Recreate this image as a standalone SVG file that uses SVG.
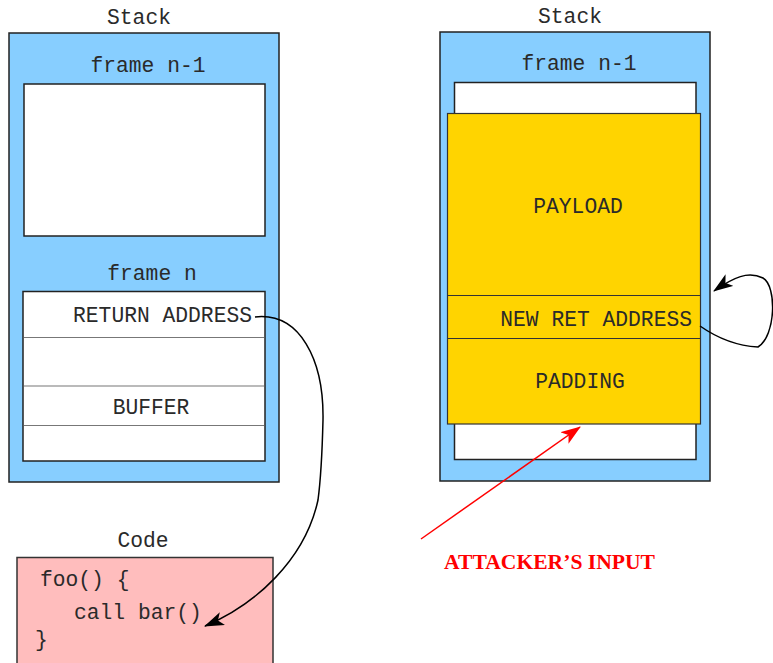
<svg xmlns="http://www.w3.org/2000/svg" width="773" height="663" viewBox="0 0 773 663">
  <style>
    .mono { font-family: "Liberation Mono", "Courier New", monospace; font-size: 21.3px; fill: #2a2a2a; }
    .stack { fill: #87CEFF; stroke: #222; stroke-width: 1.5; }
    .frame { fill: #ffffff; stroke: #222; stroke-width: 1.5; }
    .sep { stroke: #777; stroke-width: 1.2; }
    .sep-dark { stroke: #333; stroke-width: 1; }
    .payload { fill: #FFD400; stroke: #333; stroke-width: 1.2; }
    .code { fill: #FFBDBD; stroke: #333; stroke-width: 1.5; }
    .link { fill: none; stroke: #000; stroke-width: 1.5; }
    .attack { fill: none; stroke: #FF0000; stroke-width: 1.5; }
    .label { font-family: "Liberation Serif", "Times New Roman", serif; font-weight: bold; font-size: 21.5px; fill: #FF0000; }
  </style>
  <defs>
    <marker id="head" viewBox="0 0 20 14" refX="19" refY="7" markerWidth="20" markerHeight="14" markerUnits="userSpaceOnUse" orient="auto">
      <path d="M0,0 L20,7 L0,14 L5,7 Z" fill="#000"/>
    </marker>
    <marker id="head-red" viewBox="0 0 20 14" refX="19" refY="7" markerWidth="20" markerHeight="14" markerUnits="userSpaceOnUse" orient="auto">
      <path d="M0,0 L20,7 L0,14 L5,7 Z" fill="#FF0000"/>
    </marker>
  </defs>

  <rect width="773" height="663" fill="#ffffff"/>

  <!-- original stack -->
  <g id="stack-left">
    <text class="mono" x="139" y="24" text-anchor="middle">Stack</text>
    <rect class="stack" x="9" y="33" width="270" height="449"/>
    <text class="mono" x="148" y="72" text-anchor="middle">frame n-1</text>
    <rect class="frame" x="24" y="84" width="241" height="152"/>
    <text class="mono" x="152" y="280" text-anchor="middle">frame n</text>
    <rect class="frame" x="23" y="291.5" width="242" height="169.5"/>
    <line class="sep" x1="24" y1="337.5" x2="264" y2="337.5"/>
    <line class="sep" x1="24" y1="386" x2="264" y2="386"/>
    <line class="sep" x1="24" y1="425.5" x2="264" y2="425.5"/>
    <text class="mono" x="252" y="322" text-anchor="end">RETURN ADDRESS</text>
    <text class="mono" x="151" y="414" text-anchor="middle">BUFFER</text>
  </g>

  <!-- code block -->
  <g id="code">
    <text class="mono" x="143" y="547" text-anchor="middle">Code</text>
    <rect class="code" x="17" y="557.5" width="256" height="110"/>
    <text class="mono" x="40" y="586">foo() {</text>
    <text class="mono" x="74" y="619">call bar()</text>
    <text class="mono" x="35" y="646">}</text>
  </g>

  <!-- overwritten stack -->
  <g id="stack-right">
    <text class="mono" x="570" y="23" text-anchor="middle">Stack</text>
    <rect class="stack" x="440" y="32" width="270" height="449"/>
    <text class="mono" x="579" y="70" text-anchor="middle">frame n-1</text>
    <rect class="frame" x="454.5" y="82.5" width="241.5" height="377"/>
  </g>

  <g id="payload">
    <rect class="payload" x="447.5" y="113.5" width="253" height="310.5"/>
    <line class="sep-dark" x1="448" y1="295.5" x2="700" y2="295.5"/>
    <line class="sep-dark" x1="448" y1="338.5" x2="700" y2="338.5"/>
    <text class="mono" x="578" y="213" text-anchor="middle">PAYLOAD</text>
    <text class="mono" x="692" y="326" text-anchor="end">NEW RET ADDRESS</text>
    <text class="mono" x="580" y="388" text-anchor="middle">PADDING</text>
  </g>

  <g id="attacker-label">
    <text class="label" x="444" y="569" textLength="211" lengthAdjust="spacingAndGlyphs">ATTACKER’S INPUT</text>
  </g>

  <!-- connectors -->
  <g id="connectors">
    <path class="link" d="M255,317 C300,312 324,360 323,420 C322,460 320,485 318,500 C305,560 255,605 205,626" marker-end="url(#head)"/>
    <path class="link" d="M700,326 C720,340 740,346 758,347 C776,336 777,286 763,278 C748,271 734,277 714,291" marker-end="url(#head)"/>
    <path class="attack" d="M421,539 L580,427" marker-end="url(#head-red)"/>
  </g>
</svg>
